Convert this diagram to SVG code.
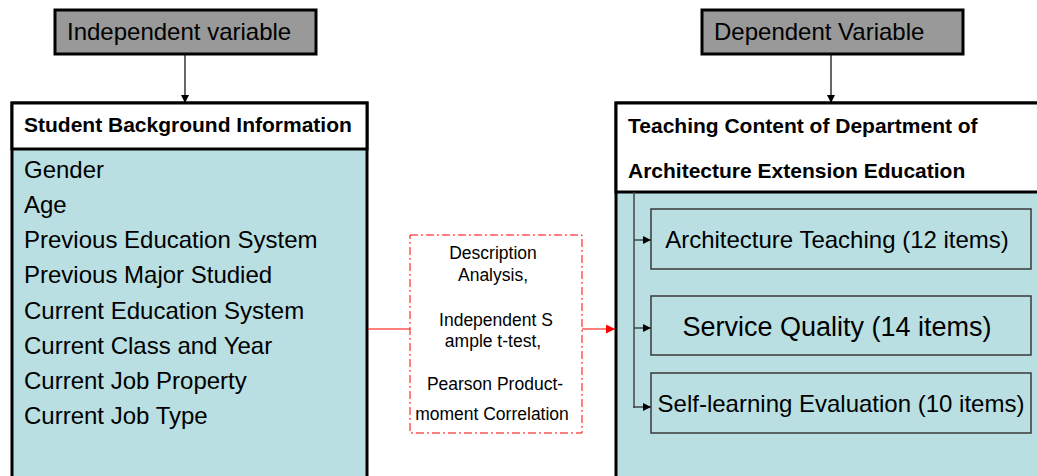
<svg xmlns="http://www.w3.org/2000/svg" width="1037" height="476" viewBox="0 0 1037 476">
  <defs>
    <style>
      .t { font-family: "Liberation Sans", Arial, sans-serif; fill: #000; }
      .var { fill: #999999; stroke: #000; stroke-width: 3; }
      .panel { fill: #b9dfe2; stroke: #000; stroke-width: 3; }
      .head { fill: #ffffff; stroke: #000; stroke-width: 3; }
      .item { fill: #b9dfe2; stroke: #3a3a3a; stroke-width: 1.5; }
      .blk { stroke: #000; stroke-width: 1.2; fill: none; }
      .gry { stroke: #444; stroke-width: 1.5; fill: none; }
      .red { stroke: #ff0000; stroke-width: 1.2; fill: none; }
    </style>
    <marker id="ab" viewBox="0 0 10 10" refX="10" refY="5" markerWidth="8" markerHeight="8" markerUnits="userSpaceOnUse" orient="auto">
      <path d="M0,0 L10,5 L0,10 z" fill="#000"/>
    </marker>
    <marker id="ar" viewBox="0 0 10 10" refX="10" refY="5" markerWidth="9" markerHeight="9" markerUnits="userSpaceOnUse" orient="auto">
      <path d="M0,0 L10,5 L0,10 z" fill="#ff0000"/>
    </marker>
  </defs>

  <!-- variable labels -->
  <g id="independent-variable">
    <rect class="var" x="55" y="10" width="261" height="44"/>
    <text class="t" x="67" y="40" font-size="24">Independent variable</text>
  </g>
  <g id="dependent-variable">
    <rect class="var" x="702" y="10" width="261" height="44"/>
    <text class="t" x="714" y="40" font-size="24">Dependent Variable</text>
  </g>

  <!-- left panel -->
  <g id="student-background">
    <rect class="panel" x="12" y="103" width="355" height="390"/>
    <rect class="head" x="12" y="103" width="355" height="46"/>
    <text class="t" x="24" y="132" font-size="21" font-weight="bold">Student Background Information</text>
    <g class="t" font-size="24">
      <text x="24" y="178">Gender</text>
      <text x="24" y="213">Age</text>
      <text x="24" y="248">Previous Education System</text>
      <text x="24" y="283">Previous Major Studied</text>
      <text x="24" y="319">Current Education System</text>
      <text x="24" y="354">Current Class and Year</text>
      <text x="24" y="389">Current Job Property</text>
      <text x="24" y="424">Current Job Type</text>
    </g>
  </g>

  <!-- right panel -->
  <g id="teaching-content">
    <rect class="panel" x="616" y="103" width="440" height="390"/>
    <rect class="head" x="616" y="103" width="440" height="89"/>
    <text class="t" x="628" y="133" font-size="21" font-weight="bold">Teaching Content of Department of</text>
    <text class="t" x="628" y="178" font-size="21" font-weight="bold">Architecture Extension Education</text>
  </g>

  <g id="architecture-teaching">
    <rect class="item" x="651" y="209" width="380" height="60"/>
    <text class="t" x="837" y="248" font-size="24" text-anchor="middle">Architecture Teaching (12 items)</text>
  </g>
  <g id="service-quality">
    <rect class="item" x="651" y="296" width="380" height="59"/>
    <text class="t" x="837" y="336" font-size="27" text-anchor="middle">Service Quality (14 items)</text>
  </g>
  <g id="self-learning">
    <rect class="item" x="651" y="373" width="380" height="60"/>
    <text class="t" x="841" y="412" font-size="24" text-anchor="middle">Self-learning Evaluation (10 items)</text>
  </g>

  <!-- analysis methods -->
  <g id="analysis">
    <rect x="410" y="235" width="172" height="198" fill="#ffffff" stroke="#ff0000" stroke-width="1" stroke-dasharray="8,3,2,3"/>
    <g class="t" font-size="17.5" text-anchor="middle">
      <text x="493" y="259">Description</text>
      <text x="493" y="281">Analysis,</text>
      <text x="496" y="326">Independent S</text>
      <text x="493" y="347">ample t-test,</text>
      <text x="495" y="390">Pearson Product-</text>
      <text x="492" y="420">moment Correlation</text>
    </g>
  </g>

  <!-- connectors -->
  <g id="connectors">
    <line class="blk" x1="185" y1="54" x2="185" y2="103" marker-end="url(#ab)"/>
    <line class="blk" x1="831" y1="54" x2="831" y2="103" marker-end="url(#ab)"/>
    <polyline class="red" points="368,329 410,329"/>
    <line class="red" x1="582" y1="329" x2="615" y2="329" marker-end="url(#ar)"/>
    <polyline class="gry" points="634,192 634,408"/>
    <line class="gry" x1="634" y1="240" x2="651" y2="240" marker-end="url(#ab)"/>
    <line class="gry" x1="634" y1="328" x2="651" y2="328" marker-end="url(#ab)"/>
    <line class="gry" x1="633" y1="407" x2="651" y2="407" marker-end="url(#ab)"/>
  </g>
</svg>
